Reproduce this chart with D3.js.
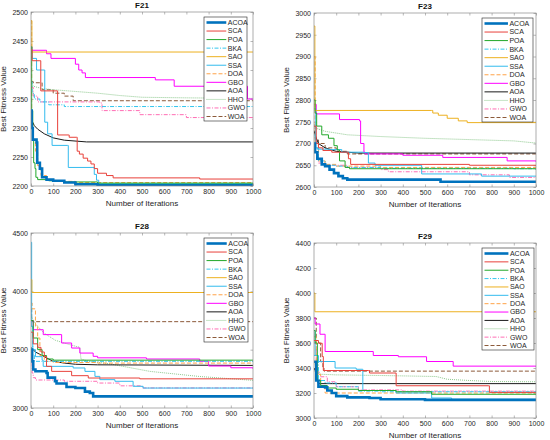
<!DOCTYPE html>
<html>
<head>
<title>convergence curves</title>
<script src="https://d3js.org/d3.v7.min.js"></script>
<style>
  body { margin: 0; background: #fff; }
  text { font-family: "Liberation Sans", Arial, sans-serif; }
</style>
</head>
<body>
<svg id="chart" width="550" height="440"></svg>
<script>
// algorithm names, same order in every curve list below
const algos = ["ACOA", "SCA", "POA", "BKA", "SAO", "SSA", "DOA", "GBO", "AOA", "HHO", "GWO", "WOA"]

// x tick labels (iterations)
const iterTicks = [0, 100, 200, 300, 400, 500, 600, 700, 800, 900, 1000]

// y tick labels per function
const f21Ticks = [2200, 2250, 2300, 2350, 2400, 2450, 2500]
const f23Ticks = [2600, 2650, 2700, 2750, 2800, 2850, 2900, 2950, 3000]
const f28Ticks = [3000, 3500, 4000, 4500]
const f29Ticks = [3000, 3200, 3400, 3600, 3800, 4000, 4200, 4400]

// best fitness breakpoints [iteration, value]
const f21Curves = [
  [[0,2330],[3,2300],[8,2280],[25,2275],[28,2240],[40,2230],[50,2215],[70,2211],[100,2209],[150,2206],[200,2203],[300,2201],[1000,2201]],
  [[0,2435],[5,2416],[40,2416],[44,2364],[118,2364],[120,2288],[170,2288],[172,2284],[205,2284],[208,2260],[218,2255],[235,2248],[255,2243],[270,2238],[285,2230],[300,2222],[340,2218],[370,2214],[760,2212],[1000,2212]],
  [[0,2440],[3,2330],[8,2280],[12,2240],[18,2230],[22,2215],[30,2211],[80,2209],[150,2207],[300,2205],[1000,2203]],
  [[0,2380],[5,2360],[15,2350],[40,2345],[80,2340],[150,2337],[1000,2337]],
  [[0,2485],[4,2431],[1000,2431]],
  [[0,2440],[5,2420],[25,2400],[60,2400],[62,2310],[75,2290],[95,2270],[165,2270],[168,2232],[275,2232],[285,2220],[295,2210],[305,2204],[1000,2204]],
  [[0,2485],[3,2300],[10,2280],[20,2260],[30,2235],[45,2218],[70,2210],[100,2208],[200,2206],[1000,2205]],
  [[0,2440],[5,2434],[70,2428],[90,2420],[200,2410],[215,2400],[230,2395],[245,2387],[560,2383],[645,2372],[975,2350],[1000,2350]],
  [[0,2330],[5,2312],[15,2304],[30,2298],[60,2290],[100,2283],[150,2279],[250,2276],[1000,2276]],
  [[0,2380],[10,2372],[50,2368],[100,2366],[200,2363],[300,2360],[400,2356],[500,2353],[700,2352],[1000,2351]],
  [[0,2370],[10,2355],[30,2345],[310,2343],[320,2330],[490,2323],[700,2318],[1000,2313]],
  [[0,2380],[10,2378],[50,2366],[100,2360],[150,2355],[190,2347],[1000,2347]]
]

const f23Curves = [
  [[0,2700],[5,2680],[15,2665],[35,2652],[50,2648],[70,2640],[90,2632],[110,2625],[130,2620],[150,2617],[550,2617],[570,2612],[1000,2611]],
  [[0,2740],[10,2700],[20,2690],[40,2684],[80,2680],[150,2680],[155,2665],[165,2652],[700,2650],[1000,2648]],
  [[0,2800],[5,2770],[12,2740],[35,2720],[65,2712],[90,2695],[105,2685],[115,2660],[140,2645],[160,2642],[1000,2640]],
  [[0,2720],[5,2690],[20,2660],[50,2650],[100,2648],[150,2645],[300,2643],[900,2642],[1000,2640]],
  [[0,2970],[4,2776],[530,2776],[535,2770],[560,2765],[600,2758],[650,2752],[690,2748],[1000,2748]],
  [[0,2780],[8,2690],[15,2687],[65,2686],[125,2680],[222,2679],[245,2655],[275,2650],[485,2630],[755,2625],[1000,2625]],
  [[0,2900],[5,2700],[20,2660],[50,2652],[100,2648],[300,2645],[1000,2642]],
  [[0,2790],[10,2768],[115,2755],[205,2752],[210,2700],[225,2680],[230,2676],[400,2673],[580,2668],[870,2660],[1000,2658]],
  [[0,2730],[5,2720],[20,2700],[50,2690],[100,2682],[200,2678],[1000,2678]],
  [[0,2745],[10,2735],[50,2728],[150,2720],[300,2716],[500,2712],[700,2709],[900,2706],[1000,2701]],
  [[0,2700],[5,2680],[20,2655],[50,2650],[150,2645],[300,2640],[335,2635],[700,2628],[880,2622],[1000,2621]],
  [[0,2740],[5,2710],[20,2700],[50,2690],[100,2682],[150,2676],[1000,2676]]
]

const f28Curves = [
  [[0,3500],[5,3400],[10,3330],[20,3315],[70,3300],[75,3260],[108,3229],[115,3210],[160,3180],[200,3171],[228,3171],[243,3140],[265,3128],[280,3100],[1000,3100]],
  [[0,3650],[10,3550],[30,3520],[45,3480],[60,3440],[70,3357],[93,3314],[183,3277],[258,3257],[490,3250],[1000,3250]],
  [[0,3750],[10,3600],[30,3500],[50,3450],[70,3420],[100,3410],[1000,3410]],
  [[0,3700],[8,3450],[15,3400],[1000,3398]],
  [[0,4100],[4,3990],[1000,3990]],
  [[0,4420],[3,3700],[8,3500],[20,3440],[50,3410],[55,3357],[190,3343],[243,3314],[288,3271],[310,3243],[378,3229],[460,3186],[505,3171],[1000,3170]],
  [[0,3900],[5,3850],[20,3700],[30,3600],[40,3450],[60,3400],[100,3390],[300,3385],[1000,3385]],
  [[0,3750],[10,3671],[55,3629],[138,3557],[183,3514],[220,3471],[280,3443],[300,3430],[520,3420],[760,3400],[800,3360],[900,3345],[1000,3335]],
  [[0,3520],[20,3480],[50,3450],[80,3420],[100,3400],[150,3385],[200,3375],[300,3370],[1000,3365]],
  [[0,3800],[10,3750],[30,3700],[60,3640],[110,3580],[180,3540],[220,3520],[225,3420],[260,3400],[350,3380],[535,3314],[760,3270],[1000,3237]],
  [[0,3450],[5,3300],[10,3260],[20,3240],[150,3229],[300,3214],[400,3190],[500,3172],[1000,3170]],
  [[0,3850],[3,3740],[1000,3740]]
]

const f29Curves = [
  [[0,3450],[10,3300],[20,3250],[50,3245],[60,3220],[80,3200],[100,3175],[150,3165],[250,3160],[300,3150],[500,3145],[1000,3145]],
  [[0,3620],[20,3598],[37,3492],[42,3380],[245,3380],[250,3360],[357,3360],[370,3258],[785,3258],[790,3205],[1000,3205]],
  [[0,3700],[5,3600],[15,3300],[30,3260],[60,3240],[100,3230],[200,3220],[370,3210],[530,3190],[1000,3185]],
  [[0,3500],[20,3300],[50,3280],[100,3250],[200,3215],[300,3210],[1000,3210]],
  [[0,4000],[4,3850],[1000,3850]],
  [[0,3700],[5,3500],[20,3452],[95,3400],[190,3390],[217,3390],[220,3220],[370,3200],[530,3160],[620,3150],[1000,3150]],
  [[0,3650],[10,3350],[30,3250],[50,3200],[1000,3200]],
  [[0,3800],[5,3752],[27,3670],[50,3532],[267,3500],[380,3490],[507,3452],[627,3415],[1000,3410]],
  [[0,3400],[5,3380],[15,3300],[20,3275],[1000,3275]],
  [[0,3450],[10,3400],[30,3350],[100,3345],[300,3340],[550,3332],[600,3310],[700,3300],[800,3292],[1000,3290]],
  [[0,3600],[10,3400],[20,3330],[60,3290],[100,3250],[200,3225],[400,3215],[1000,3210]],
  [[0,3800],[10,3600],[30,3450],[40,3400],[45,3375],[1000,3375]]
]

// line styles, same order as algos
const styles = [
  {color: "#0072bd", width: 2.6, dash: null, curve: d3.curveStepAfter},
  {color: "#e8413a", width: 1, dash: null, curve: d3.curveStepAfter},
  {color: "#22a82a", width: 1, dash: null, curve: d3.curveStepAfter},
  {color: "#33c6ee", width: 1, dash: "4,1.5,1,1.5", curve: d3.curveStepAfter},
  {color: "#edb120", width: 1, dash: null, curve: d3.curveStepAfter},
  {color: "#33bbee", width: 1, dash: null, curve: d3.curveStepAfter},
  {color: "#ffa347", width: 1, dash: "4,2", curve: d3.curveStepAfter},
  {color: "#ff00ff", width: 1, dash: null, curve: d3.curveStepAfter},
  {color: "#1a1a1a", width: 1, dash: null, curve: d3.curveLinear},
  {color: "#8ec98e", width: 1, dash: "1,1", curve: d3.curveLinear},
  {color: "#ff6eb4", width: 1, dash: "4,1.5,1,1.5", curve: d3.curveStepAfter},
  {color: "#8c5a3a", width: 1, dash: "4,2", curve: d3.curveStepAfter}
]

// panel layout: plot box [left, top, width, height], legend box [left, top, width, height]
const panels = [
  {title: "F21", curves: f21Curves, yTicks: f21Ticks, box: [31, 12, 222, 174], legend: [204, 17, 43, 104]},
  {title: "F23", curves: f23Curves, yTicks: f23Ticks, box: [314, 13, 222, 174], legend: [482, 18, 51, 104]},
  {title: "F28", curves: f28Curves, yTicks: f28Ticks, box: [31, 233, 222, 175], legend: [204, 238, 44, 104]},
  {title: "F29", curves: f29Curves, yTicks: f29Ticks, box: [314, 243, 222, 175], legend: [482, 248, 52, 102]}
]

const svg = d3.select("#chart")
const fmt = d3.format("d")

panels.forEach(function(p, pi) {
  const [left, top, w, h] = p.box
  const x = d3.scaleLinear().domain([0, 1000]).range([0, w])
  const y = d3.scaleLinear().domain(d3.extent(p.yTicks)).range([h, 0])

  const g = svg.append("g").attr("transform", "translate(" + left + "," + top + ")")

  g.append("clipPath").attr("id", "clip" + pi)
    .append("rect").attr("width", w).attr("height", h)

  // axes with inward ticks, all four sides
  const styleAxis = function(a) {
    a.select(".domain").remove()
    a.selectAll(".tick line").attr("stroke", "#8a8a8a").attr("stroke-width", 0.6)
    a.selectAll("text").attr("fill", "#262626").style("font-size", "7px")
  }
  g.append("g").attr("transform", "translate(0," + h + ")")
    .call(d3.axisBottom(x).tickValues(iterTicks).tickFormat(fmt).tickSize(-2.5).tickPadding(3))
    .call(styleAxis)
  g.append("g")
    .call(d3.axisLeft(y).tickValues(p.yTicks).tickFormat(fmt).tickSize(-2.5).tickPadding(3))
    .call(styleAxis)
  g.append("g")
    .call(d3.axisTop(x).tickValues(iterTicks).tickSize(-2.5).tickFormat(""))
    .call(styleAxis)
  g.append("g").attr("transform", "translate(" + w + ",0)")
    .call(d3.axisRight(y).tickValues(p.yTicks).tickSize(-2.5).tickFormat(""))
    .call(styleAxis)

  // curves, drawn back to front so ACOA ends on top
  const plot = g.append("g").attr("clip-path", "url(#clip" + pi + ")")
  for (let i = algos.length - 1; i >= 0; i--) {
    const s = styles[i]
    const line = d3.line()
      .x(function(d) { return x(d[0]) })
      .y(function(d) { return y(d[1]) })
      .curve(s.curve)
    plot.append("path")
      .datum(p.curves[i])
      .attr("fill", "none")
      .attr("stroke", s.color)
      .attr("stroke-width", s.width)
      .attr("stroke-dasharray", s.dash)
      .attr("d", line)
  }

  // box
  g.append("rect").attr("width", w).attr("height", h)
    .attr("fill", "none").attr("stroke", "#8a8a8a").attr("stroke-width", 0.7)

  // labels
  g.append("text").attr("x", w / 2).attr("y", -4)
    .attr("text-anchor", "middle").style("font-size", "8px").style("font-weight", "bold")
    .attr("fill", "#111").text(p.title)
  g.append("text").attr("x", w / 2).attr("y", h + 20)
    .attr("text-anchor", "middle").style("font-size", "8px").attr("fill", "#262626")
    .text("Number of Iterations")
  g.append("text").attr("transform", "translate(-25," + (h / 2) + ") rotate(-90)")
    .attr("text-anchor", "middle").style("font-size", "8px").attr("fill", "#262626")
    .text("Best Fitness Value")

  // legend
  const [lx, ly, lw, lh] = p.legend
  const lg = svg.append("g").attr("transform", "translate(" + lx + "," + ly + ")")
  lg.append("rect").attr("width", lw).attr("height", lh)
    .attr("fill", "#fff").attr("stroke", "#222").attr("stroke-width", 0.6)
  const step = (lh - 10) / (algos.length - 1)
  const sampleLen = lw * 0.46
  algos.forEach(function(name, i) {
    const yy = 5.5 + i * step
    lg.append("line")
      .attr("x1", 2.5).attr("x2", 2.5 + sampleLen)
      .attr("y1", yy).attr("y2", yy)
      .attr("stroke", styles[i].color)
      .attr("stroke-width", styles[i].width)
      .attr("stroke-dasharray", styles[i].dash)
    lg.append("text").attr("x", 4 + sampleLen).attr("y", yy + 2.4)
      .style("font-size", "7px").attr("fill", "#262626").text(name)
  })
})
</script>
</body>
</html>
